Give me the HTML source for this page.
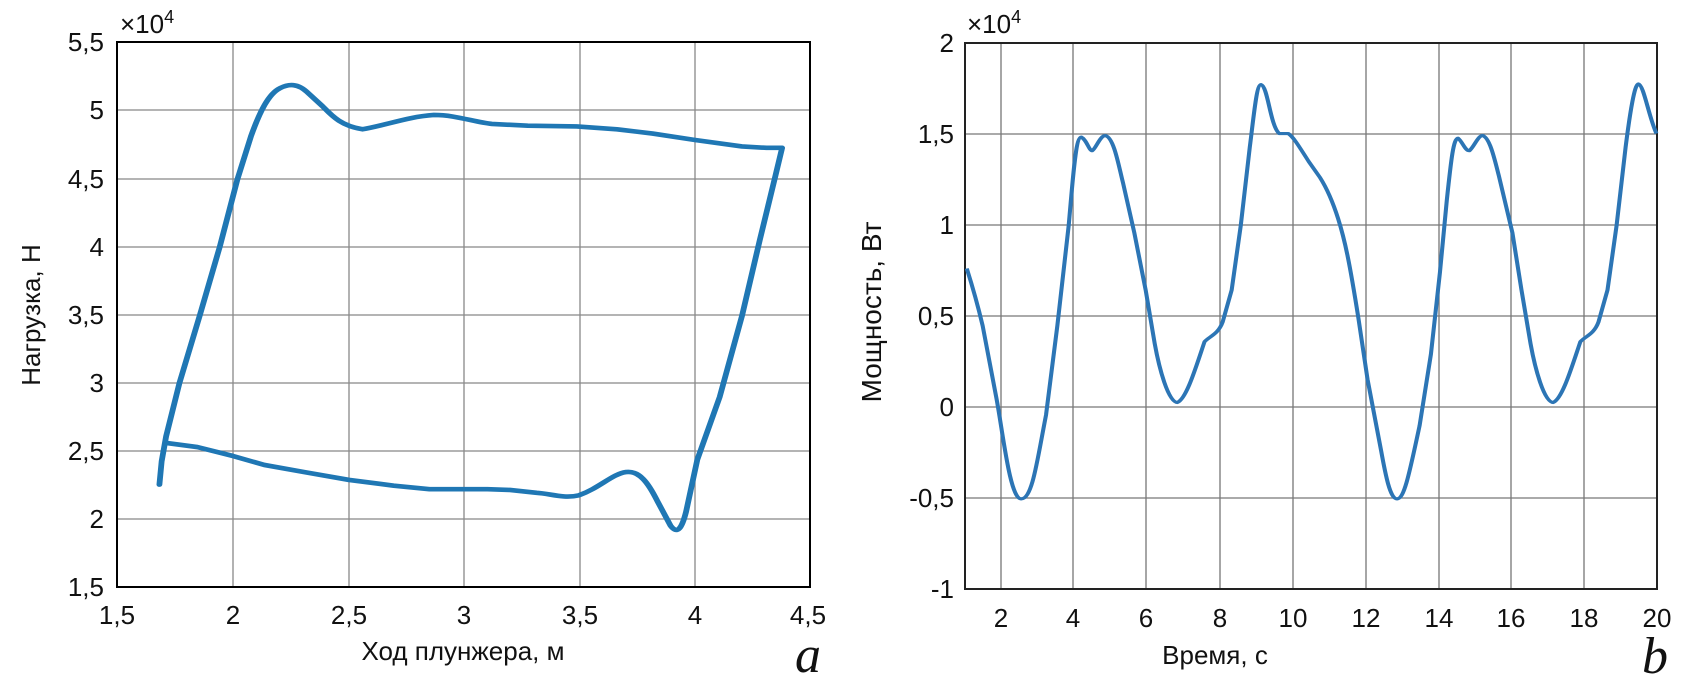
<!DOCTYPE html>
<html><head><meta charset="utf-8"><style>
html,body{margin:0;padding:0;background:#fff;}
svg{display:block;}
text{font-family:"Liberation Sans",sans-serif;fill:#111;}
text.it{font-family:"Liberation Serif",serif;font-style:italic;}
</style></head><body>
<svg width="1687" height="685" viewBox="0 0 1687 685" xmlns="http://www.w3.org/2000/svg">
<!-- LEFT PLOT -->
<g stroke="#888" stroke-width="1.3">
<line x1="233" y1="42" x2="233" y2="587"/><line x1="349" y1="42" x2="349" y2="587"/>
<line x1="464" y1="42" x2="464" y2="587"/><line x1="580" y1="42" x2="580" y2="587"/>
<line x1="695" y1="42" x2="695" y2="587"/>
<line x1="117" y1="110" x2="810" y2="110"/><line x1="117" y1="179" x2="810" y2="179"/>
<line x1="117" y1="247" x2="810" y2="247"/><line x1="117" y1="315" x2="810" y2="315"/>
<line x1="117" y1="383" x2="810" y2="383"/><line x1="117" y1="451" x2="810" y2="451"/>
<line x1="117" y1="519" x2="810" y2="519"/>
</g>
<rect x="117" y="42" width="693" height="545" fill="none" stroke="#000" stroke-width="2"/>
<g transform="translate(117,40) scale(0.4464,0.3571)">
<path fill="none" stroke="#1f77b4" stroke-width="13" stroke-linejoin="round" stroke-linecap="round" d="M95,1245 L100,1180 L110,1110 L140,960 L185,773 L230,580 L270,389 L300,270 C320,200 340,150 365,135 C385,122 405,122 425,145 L460,185 C480,210 500,240 550,250 C600,240 650,215 710,210 C760,210 800,230 840,235 L920,240 L1030,242 L1120,250 L1200,262 L1295,280 L1400,298 L1455,302 L1490,302 L1475,380 L1440,560 L1400,773 L1350,1000 L1300,1175 L1275,1320 C1265,1370 1255,1385 1240,1360 L1210,1290 C1190,1240 1170,1205 1140,1210 C1110,1215 1080,1255 1035,1275 C1000,1285 970,1270 940,1268 L880,1260 L830,1258 L780,1258 L700,1258 L620,1248 L520,1232 L420,1210 L330,1190 L260,1165 L180,1140 L108,1128"/>
</g>
<g font-size="26" text-anchor="end">
<text x="104" y="51">5,5</text><text x="104" y="119">5</text><text x="104" y="188">4,5</text>
<text x="104" y="256">4</text><text x="104" y="324">3,5</text><text x="104" y="392">3</text>
<text x="104" y="460">2,5</text><text x="104" y="528">2</text><text x="104" y="596">1,5</text>
</g>
<g font-size="26" text-anchor="middle">
<text x="117" y="624">1,5</text><text x="233" y="624">2</text><text x="349" y="624">2,5</text>
<text x="464" y="624">3</text><text x="580" y="624">3,5</text><text x="695" y="624">4</text><text x="808" y="624">4,5</text>
<text x="463" y="660">Ход плунжера, м</text>
</g>
<text x="120" y="33" font-size="26">×10<tspan font-size="18" dy="-10">4</tspan></text>
<text transform="translate(40,315) rotate(-90)" font-size="26" text-anchor="middle">Нагрузка,  Н</text>
<text class="it" x="795" y="672" font-size="52">a</text>

<!-- RIGHT PLOT -->
<g stroke="#777" stroke-width="1.3">
<line x1="1001" y1="43" x2="1001" y2="589"/><line x1="1073" y1="43" x2="1073" y2="589"/>
<line x1="1146" y1="43" x2="1146" y2="589"/><line x1="1220" y1="43" x2="1220" y2="589"/>
<line x1="1293" y1="43" x2="1293" y2="589"/><line x1="1366" y1="43" x2="1366" y2="589"/>
<line x1="1439" y1="43" x2="1439" y2="589"/><line x1="1511" y1="43" x2="1511" y2="589"/>
<line x1="1584" y1="43" x2="1584" y2="589"/>
<line x1="965" y1="134" x2="1657" y2="134"/><line x1="965" y1="225" x2="1657" y2="225"/>
<line x1="965" y1="316" x2="1657" y2="316"/><line x1="965" y1="407" x2="1657" y2="407"/>
<line x1="965" y1="498" x2="1657" y2="498"/>
</g>
<rect x="965" y="43" width="692" height="546" fill="none" stroke="#222" stroke-width="2"/>
<g transform="translate(960,40) scale(0.4528,0.3571)">
<path fill="none" stroke="#2c75b5" stroke-width="9" stroke-linejoin="round" d="M15,640 C25,680 35,720 50,800 L80,1000 C95,1100 110,1285 135,1285 C160,1285 170,1180 190,1050 L215,800 L240,520 C250,380 255,272 268,272 C280,280 285,310 292,310 C300,305 310,265 322,268 C340,275 350,350 360,400 L385,540 L410,700 L430,850 C440,920 460,1015 480,1015 C500,1005 520,920 540,845 C550,830 570,825 580,790 L600,700 L620,520 L640,300 C650,200 655,125 665,125 C680,130 685,240 705,262 L725,262 C735,270 745,290 770,340 L795,385 C810,415 825,460 835,500 C850,560 860,620 880,780 L900,950 L930,1150 C940,1220 950,1285 965,1285 C980,1285 990,1230 1015,1080 L1040,880 L1060,650 L1075,450 C1085,330 1090,275 1100,275 C1110,285 1115,310 1125,310 C1135,300 1145,265 1155,268 C1170,275 1180,330 1190,380 L1220,540 L1240,700 L1260,850 C1270,920 1290,1015 1310,1015 C1330,1005 1350,920 1370,845 C1380,830 1400,825 1410,790 L1430,700 L1450,520 L1470,300 C1480,200 1490,123 1498,123 C1510,125 1520,210 1538,262"/>
</g>
<g font-size="26" text-anchor="end">
<text x="954" y="52">2</text><text x="954" y="143">1,5</text><text x="954" y="234">1</text>
<text x="954" y="325">0,5</text><text x="954" y="416">0</text><text x="954" y="507">-0,5</text>
<text x="954" y="598">-1</text>
</g>
<g font-size="26" text-anchor="middle">
<text x="1001" y="627">2</text><text x="1073" y="627">4</text><text x="1146" y="627">6</text>
<text x="1220" y="627">8</text><text x="1293" y="627">10</text><text x="1366" y="627">12</text>
<text x="1439" y="627">14</text><text x="1511" y="627">16</text><text x="1584" y="627">18</text><text x="1657" y="627">20</text>
<text x="1215" y="664">Время, с</text>
</g>
<text x="967" y="33" font-size="26">×10<tspan font-size="18" dy="-10">4</tspan></text>
<text transform="translate(881,312) rotate(-90)" font-size="28" text-anchor="middle">Мощность, Вт</text>
<text class="it" x="1642" y="673" font-size="52">b</text>
</svg>
</body></html>
